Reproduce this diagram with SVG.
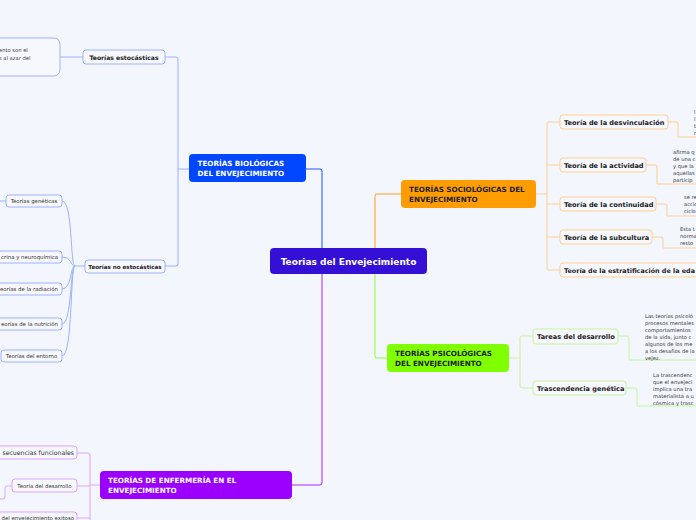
<svg xmlns="http://www.w3.org/2000/svg" width="696" height="520" viewBox="0 0 696 520">
<style>
.bg{fill:#f3f6fd}
.t{font-family:"DejaVu Sans",Verdana,sans-serif}
.b{font-weight:bold}
.main{fill:#3410d6}
.l1t{font-size:7.2px;font-weight:bold}
.cb{fill:#f7f8fe;stroke-width:1}
.blu{stroke:#9db2ff}
.org{stroke:#ffcf90}
.grn{stroke:#c6f59a}
.pur{stroke:#dba6ff}
.c6{font-size:6.6px;font-weight:bold;fill:#222}
.c5{font-size:5.4px;fill:#333}
.c5b{font-size:6.1px;font-weight:bold;fill:#222}
.d{font-size:5.2px;fill:#3a3a3a}
.cn{fill:none;stroke-width:1}
</style>
<rect class="bg" x="0" y="0" width="696" height="520"/>
<g id="connectors">
<path class="cn" stroke="#1a55ff" d="M306,169 H320 Q322,169 322,171 V248"/>
<path class="cn" stroke="#ff9e1a" d="M401,194 H377 Q375,194 375,196 V248"/>
<path class="cn" stroke="#8aff2a" d="M387,358 H377 Q375,358 375,356 V274"/>
<path class="cn" stroke="#a422ff" d="M292,485 H320 Q322,485 322,483 V274"/>
<path class="cn blu" d="M189,169 H178"/>
<path class="cn blu" d="M165,57 H176 Q178,57 178,59 V264 Q178,266 176,266 H165"/>
<path class="cn blu" d="M83,57 H60"/>
<path class="cn blu" d="M85,266 H75"/>
<path class="cn blu" d="M75,266 C70,266 73,201 62,201"/>
<path class="cn blu" d="M75,266 C70,266 72,257 62,257"/>
<path class="cn blu" d="M75,266 C70,266 72,289 62,289"/>
<path class="cn blu" d="M75,266 C70,266 72,324 62,324"/>
<path class="cn blu" d="M75,266 C70,266 73,356 62,356"/>
<path class="cn blu" d="M6,201 H0"/>
<path class="cn org" d="M536,194 H547"/>
<path class="cn org" d="M560,122 H549 Q547,122 547,124 V268 Q547,270 549,270 H560"/>
<path class="cn org" d="M547,165 H560 M547,204 H560 M547,237 H560"/>
<path class="cn org" d="M668,122 H676 Q678,122 678,124 V137 H696"/>
<path class="cn org" d="M646,165 H655 Q657,165 657,167 V184 H696"/>
<path class="cn org" d="M656,204 H665 Q667,204 667,206 V216 H696"/>
<path class="cn org" d="M652,237 H661 Q663,237 663,239 V248 H696"/>
<path class="cn grn" d="M509,358 H520"/>
<path class="cn grn" d="M533,336 H522 Q520,336 520,338 V386 Q520,388 522,388 H533"/>
<path class="cn grn" d="M618,336 H627 Q629,336 629,338 V360 H696"/>
<path class="cn grn" d="M626,388 H635 Q637,388 637,390 V406 H696"/>
<path class="cn pur" d="M100,485 H90"/>
<path class="cn pur" d="M77,453 H88 Q90,453 90,455 V520"/>
<path class="cn pur" d="M90,486 H77 M90,518 H77"/>
<path class="cn pur" d="M12,486 H7 Q5,486 5,488 V497 Q5,499 3,499 H0"/>
</g>
<g id="central">
<rect class="main" x="270" y="248" width="157" height="26" rx="4"/>
<text class="t b" x="348.5" y="264.5" font-size="9" fill="#fff" text-anchor="middle">Teorias del Envejecimiento</text>
</g>
<g id="biologicas">
<rect x="189" y="154" width="117" height="28" rx="4" fill="#0047ff"/>
<text class="t l1t" x="197.5" y="166" fill="#fff">TEORÍAS BIOLÓGICAS</text>
<text class="t l1t" x="197.5" y="175.5" fill="#fff">DEL ENVEJECIMIENTO</text>
</g>
<g id="sociologicas">
<rect x="401" y="180" width="135" height="28" rx="4" fill="#ff9c00"/>
<text class="t l1t" x="409" y="192" fill="#222">TEORÍAS SOCIOLÓGICAS DEL</text>
<text class="t l1t" x="409" y="201.5" fill="#222">ENVEJECIMIENTO</text>
</g>
<g id="psicologicas">
<rect x="387" y="344" width="122" height="28" rx="4" fill="#80ff00"/>
<text class="t l1t" x="395" y="356" fill="#222">TEORÍAS PSICOLÓGICAS</text>
<text class="t l1t" x="395" y="365.5" fill="#222">DEL ENVEJECIMIENTO</text>
</g>
<g id="enfermeria">
<rect x="100" y="471" width="192" height="28" rx="4" fill="#9b00ff"/>
<text class="t l1t" x="108" y="483" fill="#fff">TEORÍAS DE ENFERMERÍA EN EL</text>
<text class="t l1t" x="108" y="492.5" fill="#fff">ENVEJECIMIENTO</text>
</g>
<g id="estocasticas">
<rect class="cb blu" x="83" y="50" width="82" height="14" rx="3"/>
<text class="t c5b" x="124" y="59.6" text-anchor="middle">Teorías estocásticas</text>
</g>
<g id="estocasticas-texto">
<rect class="cb blu" x="-10" y="38" width="70" height="38" rx="6"/>
<text class="t d" x="-1" y="52">ento son el</text>
<text class="t d" x="-1" y="59.5">s al azar del</text>
</g>
<g id="no-estocasticas">
<rect class="cb blu" x="85" y="260" width="80" height="13" rx="3"/>
<text class="t c5b" x="125" y="268.6" text-anchor="middle" style="font-size:5.6px">Teorías no estocásticas</text>
</g>
<g id="geneticas">
<rect class="cb blu" x="6" y="195" width="56" height="12" rx="3"/>
<text class="t c5" x="34" y="203" text-anchor="middle">Teorías genéticas</text>
</g>
<g id="neuroquimica">
<rect class="cb blu" x="-10" y="251" width="72" height="12" rx="3"/>
<text class="t c5" x="58" y="259" text-anchor="end">crina y neuroquímica</text>
</g>
<g id="radiacion">
<rect class="cb blu" x="-10" y="283" width="72" height="12" rx="3"/>
<text class="t c5" x="58" y="291" text-anchor="end">eorías de la radiación</text>
</g>
<g id="nutricion">
<rect class="cb blu" x="-10" y="318" width="72" height="12" rx="3"/>
<text class="t c5" x="58" y="326" text-anchor="end">eorías de la nutrición</text>
</g>
<g id="entorno">
<rect class="cb blu" x="1" y="350" width="61" height="12" rx="3"/>
<text class="t c5" x="31.5" y="358" text-anchor="middle">Teorías del entorno</text>
</g>
<g id="desvinculacion">
<rect class="cb org" x="560" y="115" width="108" height="14" rx="3"/>
<text class="t c6" x="564" y="124.6">Teoría de la desvinculación</text>
<text class="t d" x="694" y="114">l</text>
<text class="t d" x="694" y="121">l</text>
<text class="t d" x="694" y="128">t</text>
<text class="t d" x="694" y="135">r</text>
</g>
<g id="actividad">
<rect class="cb org" x="560" y="158" width="86" height="14" rx="3"/>
<text class="t c6" x="564" y="167.6">Teoría de la actividad</text>
<text class="t d" x="673" y="154">afirma q</text>
<text class="t d" x="673" y="161">de una c</text>
<text class="t d" x="673" y="168">y que la</text>
<text class="t d" x="673" y="175">aquellas</text>
<text class="t d" x="673" y="182">particip</text>
</g>
<g id="continuidad">
<rect class="cb org" x="560" y="197" width="96" height="14" rx="3"/>
<text class="t c6" x="564" y="206.6">Teoría de la continuidad</text>
<text class="t d" x="684" y="199">se re</text>
<text class="t d" x="684" y="206">accio</text>
<text class="t d" x="684" y="213">ciclo</text>
</g>
<g id="subcultura">
<rect class="cb org" x="560" y="230" width="92" height="14" rx="3"/>
<text class="t c6" x="564" y="239.6">Teoría de la subcultura</text>
<text class="t d" x="680" y="231">Esta t</text>
<text class="t d" x="680" y="238">norma</text>
<text class="t d" x="680" y="245">resto</text>
</g>
<g id="estratificacion">
<rect class="cb org" x="560" y="263" width="160" height="14" rx="3"/>
<text class="t c6" x="564" y="272.6" style="font-size:6.4px">Teoría de la estratificación de la eda</text>
</g>
<g id="tareas">
<rect class="cb grn" x="533" y="329" width="85" height="15" rx="3"/>
<text class="t c6" x="537" y="339">Tareas del desarrollo</text>
<text class="t d" x="645" y="318">Las teorías psicoló</text>
<text class="t d" x="645" y="325">procesos mentales</text>
<text class="t d" x="645" y="332">comportamientos</text>
<text class="t d" x="645" y="339">de la vida, junto c</text>
<text class="t d" x="645" y="346">algunos de los me</text>
<text class="t d" x="645" y="353">a los desafíos de la</text>
<text class="t d" x="645" y="360">vejez.</text>
</g>
<g id="trascendencia">
<rect class="cb grn" x="533" y="381" width="93" height="14" rx="3"/>
<text class="t c6" x="537" y="390.6">Trascendencia genética</text>
<text class="t d" x="653" y="377">La trascendenc</text>
<text class="t d" x="653" y="384">que el envejeci</text>
<text class="t d" x="653" y="391">implica una tra</text>
<text class="t d" x="653" y="398">materialista a u</text>
<text class="t d" x="653" y="405">cósmica y trasc</text>
</g>
<g id="secuencias">
<rect class="cb pur" x="-10" y="446" width="87" height="13" rx="3"/>
<text class="t c5" x="74" y="455.4" text-anchor="end" style="font-size:6.2px">secuencias funcionales</text>
</g>
<g id="desarrollo">
<rect class="cb pur" x="12" y="479" width="65" height="13" rx="3"/>
<text class="t c5" x="44.5" y="487.6" text-anchor="middle">Teoría del desarrollo</text>
</g>
<g id="exitoso">
<rect class="cb pur" x="-10" y="512" width="87" height="13" rx="3"/>
<text class="t c5" x="74" y="520" text-anchor="end">del envejecimiento exitoso</text>
</g>
</svg>
